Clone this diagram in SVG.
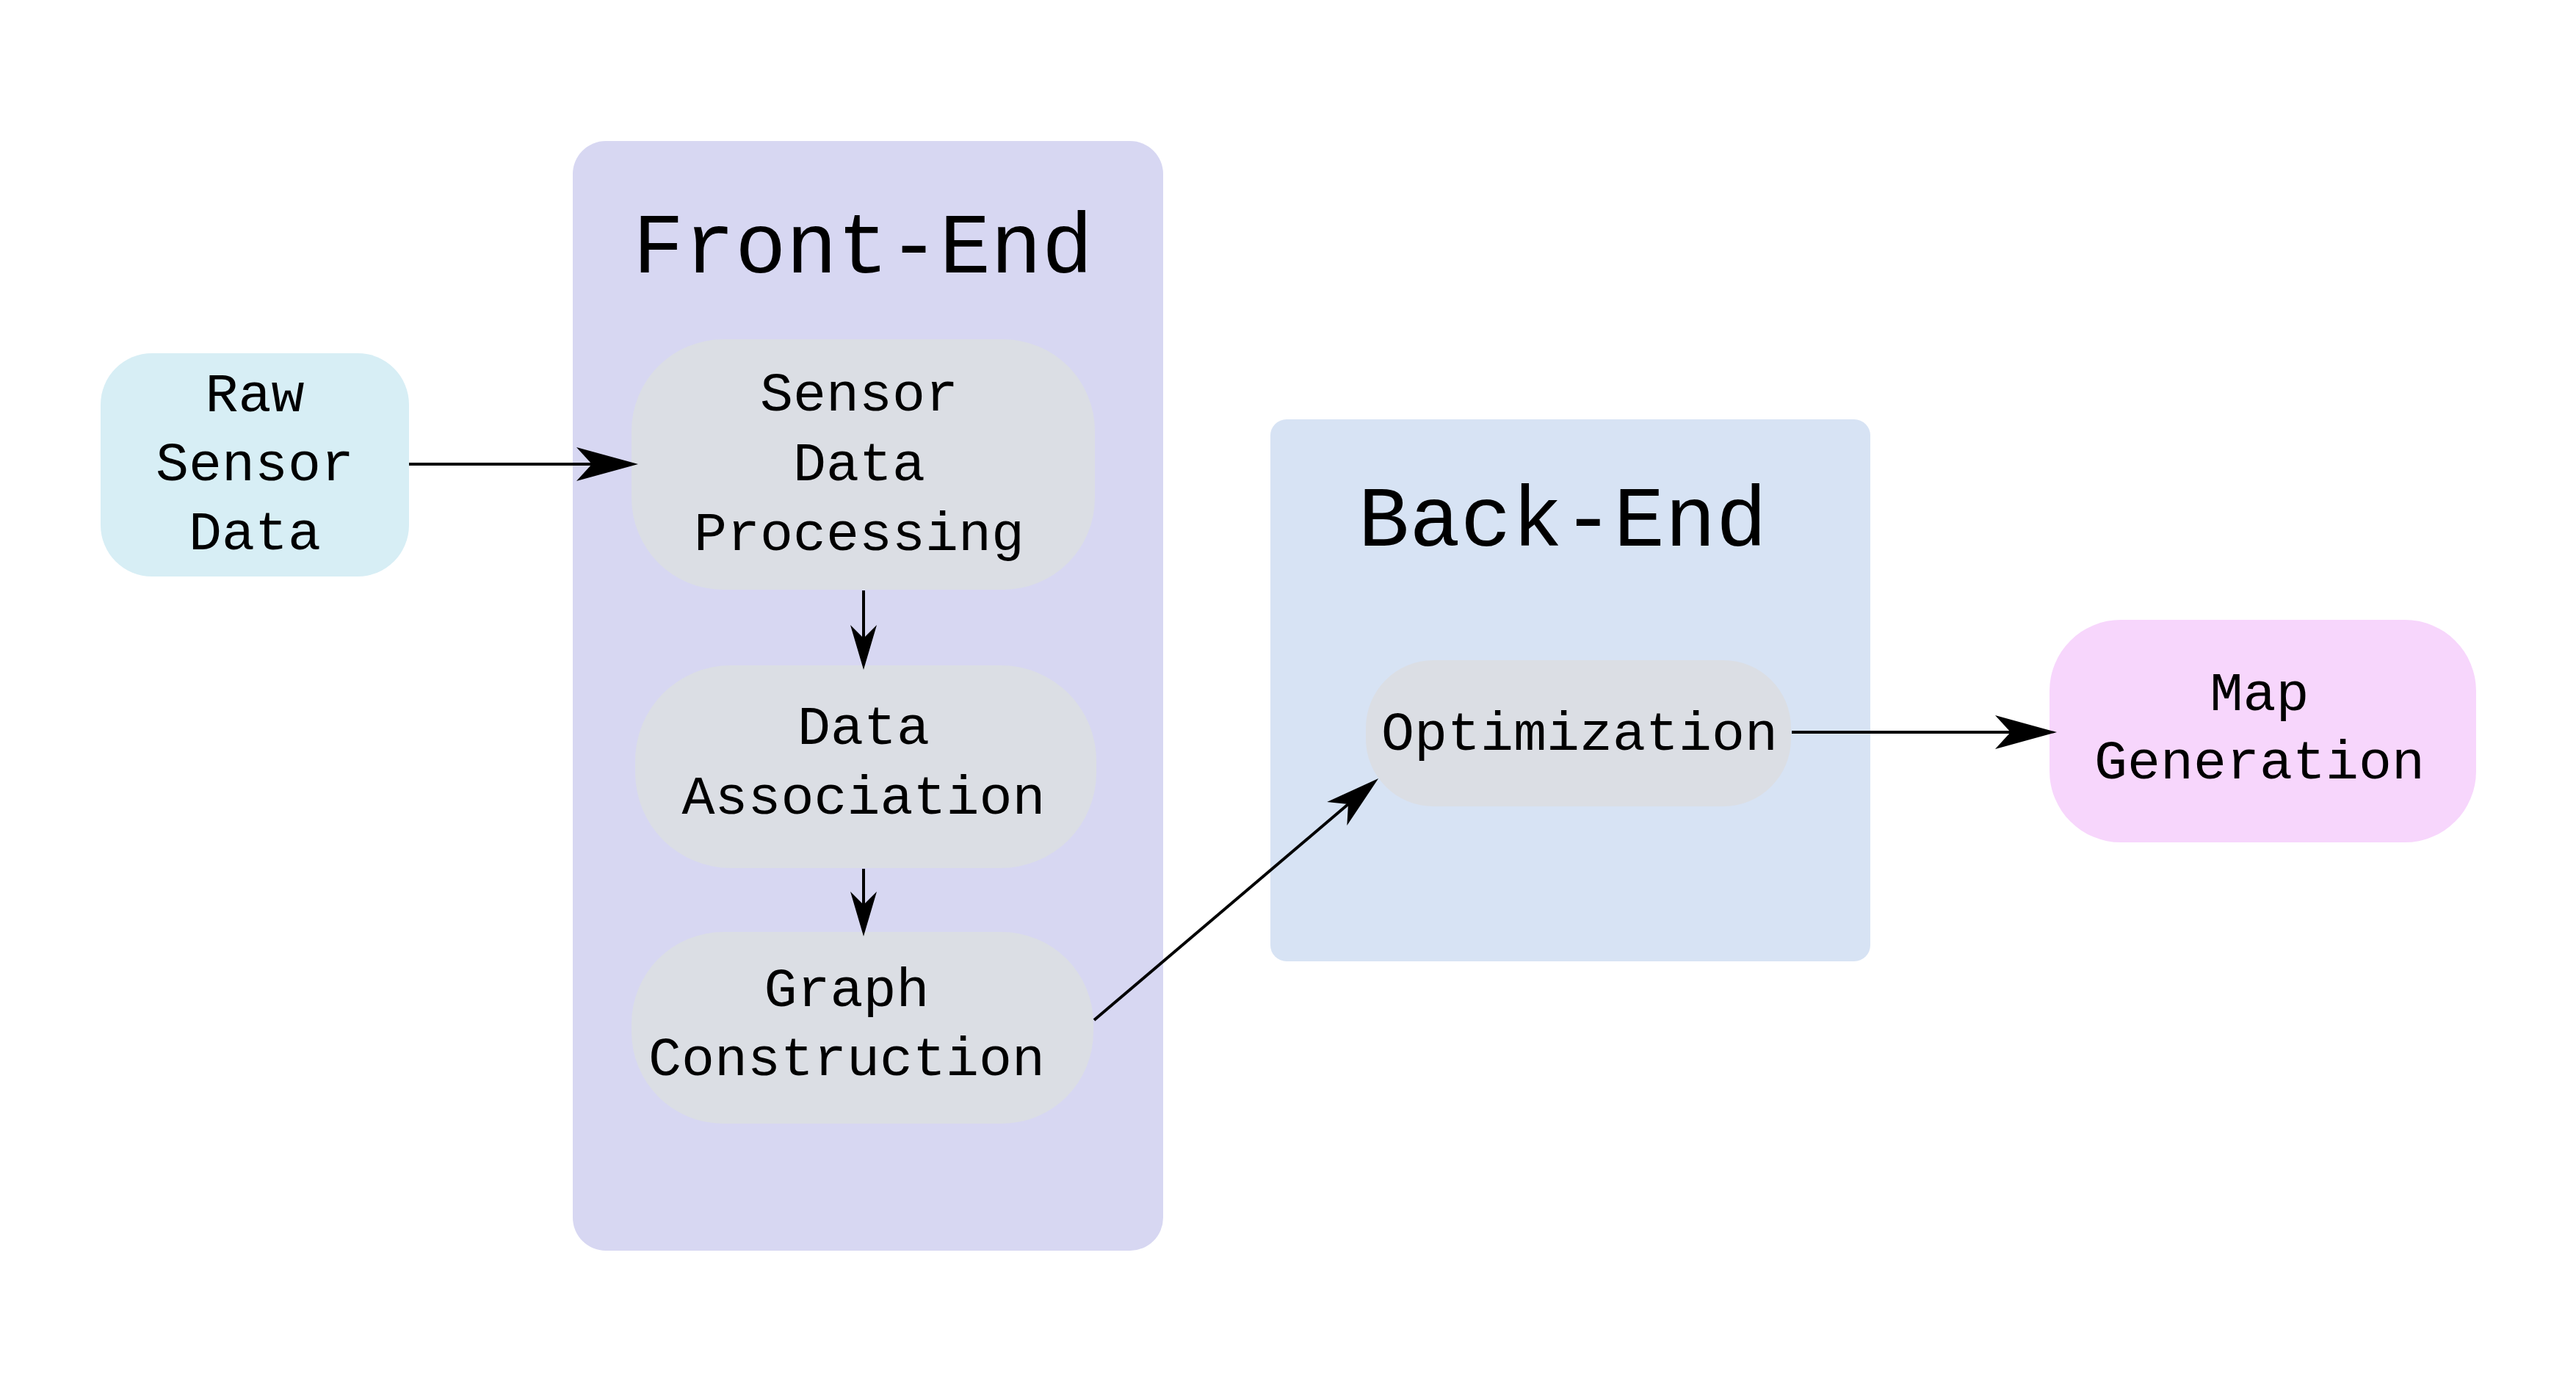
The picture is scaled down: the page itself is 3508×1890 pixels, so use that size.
<svg xmlns="http://www.w3.org/2000/svg" width="3508" height="1890" viewBox="0 0 3508 1890">
  <style>
    text { font-family: "Liberation Mono", "DejaVu Sans Mono", monospace; fill: #000; text-anchor: middle; }
    .lbl { font-size: 75px; }
    .ttl { font-size: 116px; }
    .proc { fill: #dbdee4; }
    .edge { stroke: #000; stroke-width: 4; fill: none; }
  </style>
  <defs>
    <marker id="ahL" markerUnits="userSpaceOnUse" viewBox="-25 -26 90 52" markerWidth="90" markerHeight="52" refX="0" refY="0" orient="auto" overflow="visible">
      <path d="M63,0 L-21,-23 L0,0 L-21,23 Z" fill="#000"/>
    </marker>
    <marker id="ahM" markerUnits="userSpaceOnUse" viewBox="-25 -24 82 48" markerWidth="82" markerHeight="48" refX="0" refY="0" orient="auto" overflow="visible">
      <path d="M54,0 L-20,-21 L0,0 L-20,21 Z" fill="#000"/>
    </marker>
    <marker id="ahS" markerUnits="userSpaceOnUse" viewBox="-22 -20 68 40" markerWidth="68" markerHeight="40" refX="0" refY="0" orient="auto" overflow="visible">
      <path d="M43,0 L-18,-18 L0,0 L-18,18 Z" fill="#000"/>
    </marker>
  </defs>
  <rect width="3508" height="1890" fill="#ffffff"/>

  <g id="cluster-front-end">
    <rect x="780" y="192" width="804" height="1511" rx="45" ry="45" fill="#d7d7f2"/>
    <text class="ttl" x="1175" y="371">Front-End</text>
  </g>
  <g id="cluster-back-end">
    <rect x="1730" y="571" width="817" height="738" rx="22" ry="22" fill="#d7e3f4"/>
    <text class="ttl" x="2128" y="743">Back-End</text>
  </g>

  <g id="node-raw-sensor-data">
    <rect x="137" y="481" width="420" height="304" rx="70" ry="70" fill="#d7eef5"/>
    <text class="lbl" x="347" y="560">Raw</text>
    <text class="lbl" x="347" y="654">Sensor</text>
    <text class="lbl" x="347" y="748">Data</text>
  </g>
  <g id="node-sensor-data-processing">
    <rect class="proc" x="860" y="462" width="631" height="341" rx="125" ry="125"/>
    <text class="lbl" x="1170" y="559">Sensor</text>
    <text class="lbl" x="1170" y="654">Data</text>
    <text class="lbl" x="1170" y="749">Processing</text>
  </g>
  <g id="node-data-association">
    <rect class="proc" x="865" y="906" width="628" height="276" rx="130" ry="130"/>
    <text class="lbl" x="1176" y="1013">Data</text>
    <text class="lbl" x="1176" y="1108">Association</text>
  </g>
  <g id="node-graph-construction">
    <rect class="proc" x="860" y="1269" width="629" height="261" rx="125" ry="125"/>
    <text class="lbl" x="1153" y="1370">Graph</text>
    <text class="lbl" x="1153" y="1464">Construction</text>
  </g>
  <g id="node-optimization">
    <rect class="proc" x="1860" y="899" width="579" height="199" rx="92" ry="92"/>
    <text class="lbl" x="2151" y="1021">Optimization</text>
  </g>
  <g id="node-map-generation">
    <rect x="2791" y="844" width="581" height="303" rx="97" ry="97" fill="#f7d6fc"/>
    <text class="lbl" x="3077" y="967">Map</text>
    <text class="lbl" x="3077" y="1060">Generation</text>
  </g>

  <g id="connectors">
    <path class="edge" d="M557,632 L806,632" marker-end="url(#ahL)"/>
    <path class="edge" d="M1176,804 L1176,869" marker-end="url(#ahS)"/>
    <path class="edge" d="M1176,1183 L1176,1232" marker-end="url(#ahS)"/>
    <path class="edge" d="M1490,1389 L1836,1095" marker-end="url(#ahM)"/>
    <path class="edge" d="M2440,997 L2738,997" marker-end="url(#ahL)"/>
  </g>
</svg>
